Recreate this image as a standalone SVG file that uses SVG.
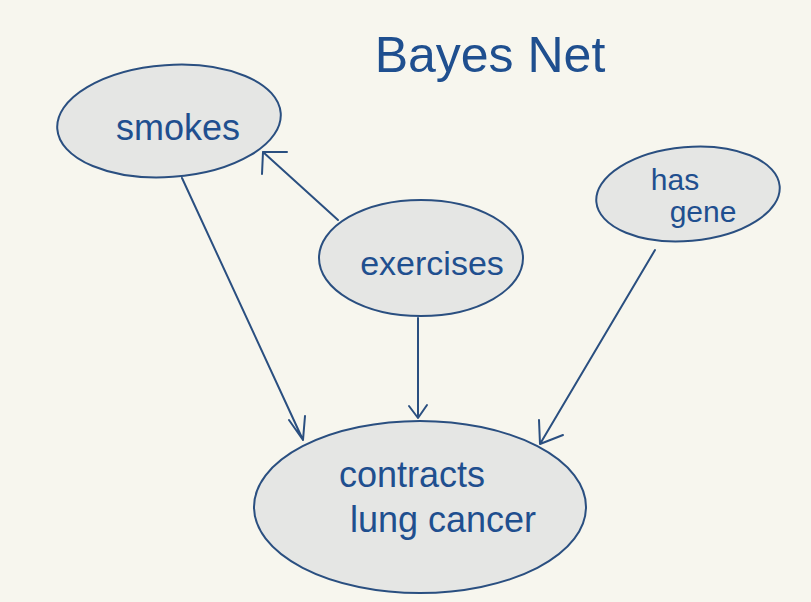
<svg xmlns="http://www.w3.org/2000/svg" width="811" height="602" viewBox="0 0 811 602">
<style>
.node ellipse{fill:#e5e6e4;stroke:#2a4f80;stroke-width:2}
.lbl{font-family:"Liberation Sans",Arial,sans-serif;fill:#1f4f8f;text-anchor:middle}
.edge{stroke:#2a4f80;stroke-width:2;fill:none;stroke-linecap:round;stroke-linejoin:round}
</style>
<rect width="811" height="602" fill="#f7f6ee"/>
<text class="lbl" x="490" y="72" font-size="50">Bayes Net</text>
<g id="edges">
<path class="edge" d="M182,178 L303,440 M289,420 L303,440 L305,416"/>
<path class="edge" d="M338,220 L263,152 M262,174 L263,152 L287,152"/>
<path class="edge" d="M418,318 L418,418 M409,406 L418,418 L427,405"/>
<path class="edge" d="M655,250 L540,444 M539,420 L540,444 L563,435"/>
</g>
<g id="smokes" class="node">
<ellipse cx="169" cy="121" rx="112" ry="56" transform="rotate(-4 169 121)"/>
<text class="lbl" x="178" y="140" font-size="36">smokes</text>
</g>
<g id="exercises" class="node">
<ellipse cx="421" cy="258" rx="102" ry="58"/>
<text class="lbl" x="432" y="275" font-size="34">exercises</text>
</g>
<g id="hasgene" class="node">
<ellipse cx="688" cy="194" rx="92" ry="47" transform="rotate(-5 688 194)"/>
<text class="lbl" x="675" y="190" font-size="30">has</text>
<text class="lbl" x="703" y="222" font-size="30">gene</text>
</g>
<g id="cancer" class="node">
<ellipse cx="420" cy="507" rx="166" ry="86"/>
<text class="lbl" x="412" y="487" font-size="36">contracts</text>
<text class="lbl" x="443" y="532" font-size="36">lung cancer</text>
</g>
</svg>
